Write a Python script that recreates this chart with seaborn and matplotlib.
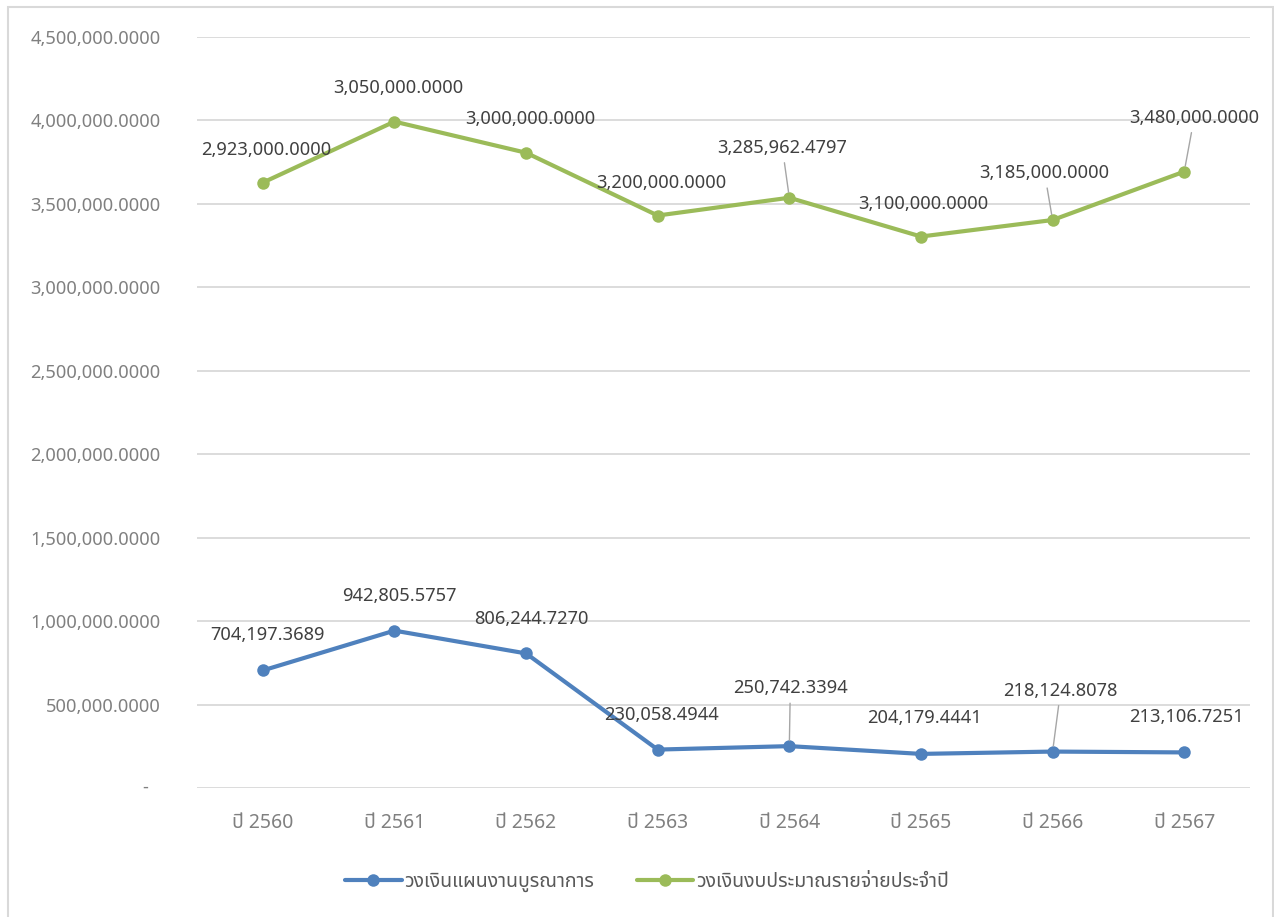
import numpy as np
import pandas as pd
import matplotlib
matplotlib.use("Agg")
import matplotlib.pyplot as plt
import seaborn as sns
from matplotlib import font_manager as fm
from matplotlib import ft2font
from matplotlib.patches import Rectangle

# ---------------- data ----------------
years = ["ปี 2560", "ปี 2561", "ปี 2562", "ปี 2563", "ปี 2564", "ปี 2565", "ปี 2566", "ปี 2567"]
series_names = ["วงเงินแผนงานบูรณาการ", "วงเงินงบประมาณรายจ่ายประจำปี"]
integrated = [704197.3689, 942805.5757, 806244.7270, 230058.4944,
              250742.3394, 204179.4441, 218124.8078, 213106.7251]
annual = [2923000.0000, 3050000.0000, 3000000.0000, 3200000.0000,
          3285962.4797, 3100000.0000, 3185000.0000, 3480000.0000]
y_ticks = [0, 500000, 1000000, 1500000, 2000000, 2500000, 3000000, 3500000, 4000000, 4500000]

# ---------------- fonts ----------------
def find_thai_family():
    prefs = ["Noto Sans Thai", "Noto Sans Thai UI", "Loma", "Garuda", "Sarabun",
             "Tlwg Typo", "Waree", "Umpush", "Kinnari", "Norasi", "Laksaman"]
    found = []
    seen = {}
    for f in fm.fontManager.ttflist:
        if f.fname in seen:
            ok = seen[f.fname]
        else:
            try:
                ok = 0x0E27 in ft2font.FT2Font(f.fname).get_charmap()
            except Exception:
                ok = False
            seen[f.fname] = ok
        if ok:
            found.append(f.name)
    for p in prefs:
        if p in found:
            return p
    return found[0] if found else "DejaVu Sans"

thai = find_thai_family()
sns.set_style("white")
FAM = ["Noto Sans", thai, "DejaVu Sans"]
plt.rcParams["font.family"] = FAM

BLUE = "#4F81BD"
GREEN = "#9BBB59"
GRID = "#D9D9D9"
TICK = "#808080"
LABEL = "#404040"
FS = 13.2

# stacked line values
stacked_annual = list(np.add(integrated, annual))
pos = list(range(len(years)))
df = pd.DataFrame({
    "pos": pos + pos,
    "value": integrated + stacked_annual,
    "series": [series_names[0]] * len(years) + [series_names[1]] * len(years),
})

fig = plt.figure(figsize=(12.74, 9.17), dpi=100)
ax = fig.add_axes([0.1546, 0.1407, 0.8266, 0.8190])

sns.lineplot(data=df, x="pos", y="value", hue="series", hue_order=series_names,
             palette=[BLUE, GREEN], marker="o", markersize=9, markeredgewidth=0,
             linewidth=3, legend=False, ax=ax, sort=False)

ax.set_xlim(-0.5, len(years) - 0.5)
ax.set_ylim(y_ticks[0], y_ticks[-1])
ax.set_xticks(pos)
ax.set_xticklabels(years)
ax.set_yticks(y_ticks)
ax.set_yticklabels(["" if v == 0 else f"{v:,.4f}" for v in y_ticks])
ax.tick_params(axis="y", length=0, pad=26, labelsize=FS, labelcolor=TICK)
ax.tick_params(axis="x", length=0, pad=18, labelsize=14, labelcolor=TICK)
for lab in ax.get_xticklabels():
    lab.set_family(FAM)
ax.set_xlabel("")
ax.set_ylabel("")
ax.grid(axis="y", color=GRID, linewidth=1.3)
ax.grid(axis="x", visible=False)
for s in ax.spines.values():
    s.set_visible(False)
ax.set_axisbelow(True)

ax.annotate("-", xy=(0, 0), xycoords=("axes fraction", "data"), xytext=(-49, 0),
            textcoords="offset pixels", ha="right", va="center", fontsize=FS, color=TICK)

# data labels (offsets in pixels, leader flags)
blue_off = [(5, 35), (5, 35), (5, 34), (4, 35), (1, 58), (4, 36), (8, 61), (2, 35)]
blue_lead = [False, False, False, False, True, False, True, False]
green_off = [(3, 33), (4, 34), (4, 34), (4, 33), (-7, 50), (2, 33), (-8, 47), (10, 54)]
green_lead = [False, False, False, False, True, False, True, True]

def put_labels(vals, plotted, offs, leads):
    for i, (v, pv) in enumerate(zip(vals, plotted)):
        kw = {}
        if leads[i]:
            kw["arrowprops"] = dict(arrowstyle="-", color="#A6A6A6", lw=1.0,
                                    shrinkA=2, shrinkB=4)
        ax.annotate(f"{v:,.4f}", xy=(pos[i], pv), xytext=offs[i],
                    textcoords="offset pixels", ha="center", va="center",
                    fontsize=FS, color=LABEL, **kw)

put_labels(integrated, integrated, blue_off, blue_lead)
put_labels(annual, stacked_annual, green_off, green_lead)

handles = ax.get_lines()[:2]
leg = fig.legend(handles, series_names, loc="center", bbox_to_anchor=(0.508, 0.038),
                 ncol=2, frameon=False, fontsize=14, handlelength=2.9,
                 columnspacing=2.2, handletextpad=0.15)
for t in leg.get_texts():
    t.set_color("#595959")
    t.set_family(FAM)

fig.patches.append(Rectangle((0.0063, -0.05), 0.9929, 0.9924 + 0.05,
                             transform=fig.transFigure, fill=False,
                             edgecolor="#D9D9D9", linewidth=1.5))

fig.savefig("out.png", dpi=100)
